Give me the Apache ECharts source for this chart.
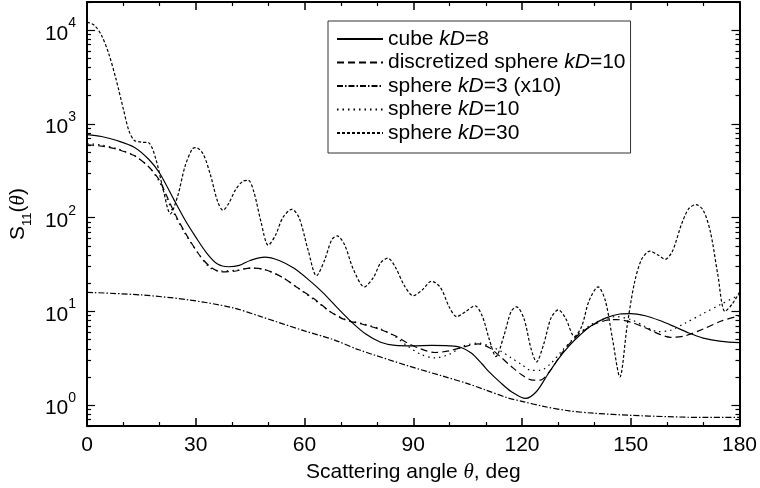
<!DOCTYPE html>
<html>
<head>
<meta charset="utf-8">
<script src="https://cdn.jsdelivr.net/npm/echarts@6/dist/echarts.min.js"></script>
<style>
  html, body { margin: 0; padding: 0; background: #fff; }
  #chart { width: 760px; height: 488px; }
</style>
</head>
<body>
<div id="chart"></div>
<script>
// tick values
var xTicks = [0, 30, 60, 90, 120, 150, 180]
var yMajorTicks = [1, 10, 100, 1000, 10000]
var yMinorTicks = [0.6, 0.7, 0.8, 0.9, 2, 3, 4, 5, 6, 7, 8, 9, 20, 30, 40, 50, 60, 70, 80, 90,
  200, 300, 400, 500, 600, 700, 800, 900, 2000, 3000, 4000, 5000, 6000, 7000, 8000, 9000, 20000]

// cube kD=8
var cubeAngle = [0, 4, 8, 13, 17, 20, 24, 27, 30, 33, 36, 39, 42, 45, 49, 53, 57, 61, 65, 69, 73, 77, 81, 85, 90,
  95, 100, 103, 106, 109, 111, 114, 117, 121, 124, 127, 130, 133, 136, 139, 143, 147, 150, 154, 158, 162, 166, 170, 175, 180]
var cubeS11 = [770, 735, 670, 565, 420, 300, 155, 95, 62, 42, 32, 30, 31, 35, 38, 35, 29, 22, 16, 11, 7.7, 5.7, 4.7, 4.35, 4.3,
  4.35, 4.3, 4.15, 3.6, 2.75, 2.25, 1.75, 1.4, 1.18, 1.4, 2.1, 3.1, 4.3, 5.6, 7.0, 8.5, 9.4, 9.5, 9.0, 8.0, 6.9, 5.9, 5.2, 4.8, 4.65]

// discretized sphere kD=10
var discAngle = [0, 4, 8, 13, 17, 20, 22, 24, 27, 31, 34, 37, 41, 45, 49, 54, 58, 63, 67, 71, 76, 81, 85, 88, 92, 96,
  100, 104, 108, 111, 114, 117, 120, 123, 125, 128, 131, 135, 139, 143, 146, 150, 154, 158, 161, 165, 170, 175, 180]
var discS11 = [600, 580, 540, 460, 350, 250, 170, 115, 70, 40, 30, 26.5, 27, 29, 28, 23, 18, 13.3, 10, 8.2, 7.3, 6.4, 5.5, 4.7, 4.0, 3.65,
  3.8, 4.2, 4.5, 4.1, 3.3, 2.6, 2.1, 1.85, 1.85, 2.4, 3.6, 5.4, 7.0, 8.0, 8.2, 7.7, 6.7, 5.7, 5.3, 5.5, 6.5, 7.9, 9.0]

// sphere kD=3 (x10)
var sph3Angle = [0, 15, 28, 40, 48, 60, 68, 75, 89, 98, 105, 110, 116, 120, 126, 133, 140, 150, 160, 170, 180]
var sph3S11 = [16, 15, 13.3, 11, 8.8, 6.2, 5.0, 3.9, 2.6, 2.05, 1.7, 1.45, 1.2, 1.1, 0.97, 0.87, 0.82, 0.78, 0.755, 0.74, 0.74]

// sphere kD=10
var sph10Angle = [0, 4, 8, 13, 17, 20, 22, 24, 27, 31, 34, 37, 41, 45, 49, 54, 58, 63, 67, 71, 76, 81, 85, 88, 92, 96,
  100, 104, 108, 111, 114, 117, 120, 122.5, 125, 128, 131, 135, 139, 143, 146, 150, 154, 157.5, 161, 165, 170, 175, 180]
var sph10S11 = [620, 595, 550, 460, 350, 240, 160, 110, 68, 40, 29, 27, 27.5, 29, 28, 23, 18, 13, 10, 8.3, 7.4, 6.5, 5.4, 4.4, 3.5, 3.2,
  3.5, 4.3, 4.6, 4.3, 3.8, 3.2, 2.7, 2.35, 2.35, 2.8, 3.8, 5.5, 7.2, 8.4, 8.8, 8.2, 6.9, 6.1, 6.3, 7.5, 9.5, 12, 15]

// sphere kD=30
var sph30Angle = [0, 2, 4, 6, 8, 10, 11.5, 13, 15, 17, 19, 21, 23, 25, 27, 29, 30, 32, 34, 36, 37.5, 39, 41, 43, 44.5, 46, 48,
  50, 52, 54, 56.5, 58.5, 61, 63.3, 65.5, 67.5, 69, 71, 73.5, 76.5, 79, 81, 83, 85, 87.5, 90, 92.5, 95, 97.5, 100, 102,
  104.5, 107, 109, 111, 112.8, 115, 117, 118.5, 120.5, 122.5, 124, 126, 128, 130, 132, 134.5, 136.5, 138.5, 141, 143,
  145, 147, 149, 151, 153, 155.3, 157.5, 159.5, 161.5, 164, 166, 168, 170, 172, 174, 176, 178, 180]
var sph30S11 = [12200, 11300, 8800, 5600, 3000, 1450, 860, 670, 640, 630, 420, 200, 110, 170, 350, 540, 560, 480, 290, 150, 120, 140, 200, 245, 250, 190, 90,
  51, 65, 100, 123, 100, 45, 24, 35, 58, 64, 52, 28, 18.3, 23, 33, 37, 30, 19, 14.7, 17, 21, 18, 11, 8.8,
  10, 11.5, 9, 5, 3.3, 5.5, 10, 11.2, 8.5, 4, 2.9, 4.5, 8.5, 10.4, 8.5, 5.4, 7, 13, 18.3, 13,
  5, 2.0, 7, 20, 36, 44, 40, 36, 44, 85, 125, 138, 120, 70, 25, 10, 12, 16]

function pairs(xs, ys) {
  return xs.map(function (x, i) { return [x, ys[i]] })
}

var font = 'Liberation Sans, Arial, sans-serif'
var fs = 21

function makeSeries(name, xs, ys, type) {
  return {
    name: name,
    type: 'line',
    symbol: 'none',
    smooth: 0.3,
    data: pairs(xs, ys),
    lineStyle: { color: '#000', width: 1.2, type: type },
    itemStyle: { color: '#000' }
  }
}

var chart = echarts.init(document.getElementById('chart'))

var xBase = {
  type: 'value',
  min: 0,
  max: 180,
  interval: 30,
  splitLine: { show: false },
  axisLine: { lineStyle: { color: '#000', width: 2 } },
  axisTick: { inside: true, length: 8, lineStyle: { color: '#000', width: 1.5 } },
  minorTick: { show: true, splitNumber: 3, length: 4, lineStyle: { color: '#000', width: 1.2 } }
}

function yAxisDef(position, ticks, len, withLabel, showLine) {
  return {
    type: 'log',
    logBase: 10,
    min: 0.6,
    max: 20000,
    position: position,
    splitLine: { show: false },
    axisLine: { show: showLine, onZero: false, lineStyle: { color: '#000', width: 2 } },
    axisTick: { inside: true, length: len, customValues: ticks, lineStyle: { color: '#000', width: 1.2 } },
    axisLabel: withLabel ? {
      customValues: yMajorTicks,
      margin: 11,
      color: '#000',
      fontFamily: font,
      formatter: function (v) {
        return '{b|10}{s|' + Math.round(Math.log10(v)) + '}'
      },
      rich: {
        b: { fontSize: fs, fontFamily: font, color: '#000', verticalAlign: 'bottom', lineHeight: 28 },
        s: { fontSize: 14, fontFamily: font, color: '#000', verticalAlign: 'top', lineHeight: 28 }
      }
    } : { show: false }
  }
}

var yLeft = yAxisDef('left', yMajorTicks, 8, true, true)
yLeft.name = '{a|S}{s|11}{a|(}{t|θ}{a|)}'
yLeft.nameLocation = 'middle'
yLeft.nameGap = 44
yLeft.nameTextStyle = {
  rich: {
    a: { fontSize: fs, fontFamily: font, color: '#000', verticalAlign: 'top', lineHeight: 26 },
    s: { fontSize: 13, fontFamily: font, color: '#000', verticalAlign: 'bottom', lineHeight: 26 },
    t: { fontSize: fs, fontFamily: 'Liberation Serif, serif', fontStyle: 'italic', color: '#000', verticalAlign: 'top', lineHeight: 26 }
  }
}

chart.setOption({
  animation: false,
  backgroundColor: '#fff',
  grid: { left: 86, right: 18, top: 2, bottom: 61 },
  legend: {
    orient: 'vertical',
    left: 328,
    top: 21,
    itemWidth: 46,
    itemHeight: 14,
    itemGap: 1.5,
    padding: [7, 5, 9, 8],
    borderColor: '#333',
    borderWidth: 1,
    backgroundColor: '#fff',
    itemStyle: { color: 'rgba(0,0,0,0)', borderWidth: 0, opacity: 0 },
    textStyle: {
      fontSize: fs,
      fontFamily: font,
      color: '#000',
      lineHeight: 22,
      rich: {
        i: { fontSize: fs, fontFamily: font, fontStyle: 'italic', color: '#000' }
      }
    },
    formatter: function (name) {
      return name.replace('kD', '{i|kD}')
    },
    data: ['cube kD=8', 'discretized sphere kD=10', 'sphere kD=3 (x10)', 'sphere kD=10', 'sphere kD=30']
  },
  xAxis: [
    Object.assign({}, xBase, {
      position: 'bottom',
      name: '{a|Scattering angle }{t|θ}{a|, deg}',
      nameLocation: 'middle',
      nameGap: 36,
      nameTextStyle: {
        rich: {
          a: { fontSize: fs, fontFamily: font, color: '#000' },
          t: { fontSize: fs, fontFamily: 'Liberation Serif, serif', fontStyle: 'italic', color: '#000' }
        }
      },
      axisLabel: { fontSize: fs, fontFamily: font, color: '#000', margin: 9,
        customValues: xTicks }
    }),
    Object.assign({}, xBase, {
      position: 'top',
      axisLabel: { show: false }
    })
  ],
  yAxis: [
    yLeft,
    yAxisDef('left', yMinorTicks, 4, false, false),
    yAxisDef('right', yMajorTicks, 8, false, true),
    yAxisDef('right', yMinorTicks, 4, false, false)
  ],
  series: [
    makeSeries('cube kD=8', cubeAngle, cubeS11, 'solid'),
    makeSeries('discretized sphere kD=10', discAngle, discS11, [7, 4]),
    makeSeries('sphere kD=3 (x10)', sph3Angle, sph3S11, [6, 2, 1.5, 2]),
    makeSeries('sphere kD=10', sph10Angle, sph10S11, [1.5, 4]),
    makeSeries('sphere kD=30', sph30Angle, sph30S11, [3, 2])
  ]
})
</script>
</body>
</html>
